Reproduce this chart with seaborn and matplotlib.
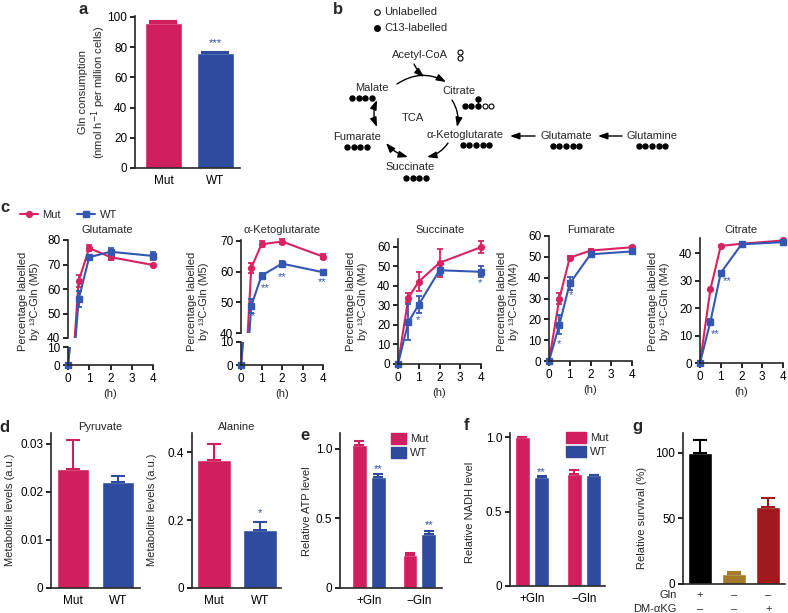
import numpy as np
import pandas as pd
import matplotlib
matplotlib.use("Agg")
import matplotlib.pyplot as plt
from matplotlib.patches import Patch
from matplotlib.lines import Line2D
import seaborn as sns

# ---------- data ----------
times = [0, 0.5, 1, 2, 4]

glu_mut = [0, 63.3, 76.7, 73.0, 69.8]
glu_mut_err = [0, 2.5, 1.3, 1.0, 0.6]
glu_wt = [0, 55.8, 73.0, 75.2, 73.5]
glu_wt_err = [0, 3.3, 0.6, 1.5, 1.5]

akg_mut = [0, 61.2, 68.9, 69.8, 64.9]
akg_mut_err = [0, 1.5, 1.0, 0.7, 0.8]
akg_wt = [0, 48.8, 58.7, 62.6, 59.8]
akg_wt_err = [0, 2.2, 0.8, 1.0, 0.5]

suc_mut = [0, 33.9, 42.2, 51.8, 59.8]
suc_mut_err = [0, 2.2, 4.8, 7.0, 3.0]
suc_wt = [0, 21.5, 30.4, 48.0, 47.2]
suc_wt_err = [0, 9.0, 4.3, 2.5, 2.8]

fum_mut = [0, 30.0, 49.6, 53.0, 54.6]
fum_mut_err = [0, 2.5, 1.0, 0.6, 0.5]
fum_wt = [0, 17.5, 37.2, 51.2, 52.6]
fum_wt_err = [0, 4.5, 3.3, 0.8, 0.8]

cit_mut = [0, 26.8, 42.6, 43.4, 44.6]
cit_mut_err = [0, 0.3, 0.3, 0.3, 0.3]
cit_wt = [0, 15.0, 32.8, 43.2, 44.0]
cit_wt_err = [0, 1.0, 0.6, 0.3, 0.5]

genotypes = ["Mut", "WT"]
gln_use = [95.6, 76.0]
gln_use_err = [1.3, 0.7]

pyruvate = [0.0247, 0.0221]
pyruvate_err = [0.0060, 0.0011]
alanine = [0.377, 0.170]
alanine_err = [0.047, 0.024]

conditions = ["+Gln", "\u2212Gln"]
atp_mut = [1.03, 0.237]
atp_mut_err = [0.03, 0.017]
atp_wt = [0.80, 0.388]
atp_wt_err = [0.017, 0.022]

nadh_mut = [1.0, 0.752]
nadh_mut_err = [0.003, 0.027]
nadh_wt = [0.735, 0.745]
nadh_wt_err = [0.003, 0.003]

survival = [100, 7.6, 58.4]
survival_err = [10, 1.8, 7.3]
gln_signs = ["+", "\u2013", "\u2013"]
dmakg_signs = ["\u2013", "\u2013", "+"]

MUT = "#d11f5e"
WT = "#2e4b9f"
MUT_LINE = "#d8235f"
WT_LINE = "#3557b2"
SURV_COLORS = ["#000000", "#a47a2c", "#a1191d"]

# ---------- style ----------
sns.set_theme(style="ticks")
plt.rcParams["font.family"] = ["Liberation Sans", "DejaVu Sans"]
plt.rcParams.update({
    "font.size": 8, "axes.linewidth": 1.2,
    "xtick.major.width": 1.2, "ytick.major.width": 1.2,
    "xtick.major.size": 3.5, "ytick.major.size": 3.5,
    "xtick.labelsize": 8.5, "ytick.labelsize": 8.5,
    "xtick.major.pad": 2, "ytick.major.pad": 2,
    "axes.labelsize": 8,
})

W, H = 788, 613
fig = plt.figure(figsize=(W / 100, H / 100), dpi=100)


def add_ax(l, t, r, b):
    ax = fig.add_axes([l / W, 1 - b / H, (r - l) / W, (b - t) / H])
    sns.despine(ax=ax)
    ax.tick_params(colors="black")
    return ax


def ftext(x, y, s, **kw):
    kw.setdefault("ha", "center")
    kw.setdefault("va", "center")
    fig.text(x / W, 1 - y / H, s, **kw)


def letter(x, y, s):
    ftext(x, y, s, fontsize=12, fontweight="bold")


def ylab(x, y, s):
    ftext(x, y, s, rotation=90, linespacing=1.15)


# ---------- b: diagram ----------
bx = fig.add_axes([0, 0, 1, 1], zorder=-1)
bx.set_xlim(0, W)
bx.set_ylim(H, 0)
bx.axis("off")

nodes = [("Acetyl-CoA", 420, 55), ("Malate", 372, 88), ("Citrate", 459, 91),
         ("TCA", 413, 118), ("Fumarate", 357, 137), ("\u03b1-Ketoglutarate", 465, 135),
         ("Succinate", 410, 167), ("Glutamate", 566, 136), ("Glutamine", 652, 136)]
for name, x, y in nodes:
    bx.text(x, y, name, ha="center", va="center", fontsize=8)

# labelled carbons: (x centre, y, filled, open)
carbons = [(362, 98, 4, 0), (357, 147, 4, 0), (416, 178, 4, 0),
           (476, 145, 5, 0), (566, 146, 5, 0), (652, 146, 5, 0), (478, 106, 3, 2)]


def dots(xc, y, nf, no, step=6.7):
    n = nf + no
    xs = xc + (np.arange(n) - (n - 1) / 2) * step
    bx.plot(xs[:nf], [y] * nf, "o", color="black", ms=3.6)
    if no:
        bx.plot(xs[nf:], [y] * no, "o", mfc="white", mec="black", ms=3.6, mew=0.8)
    return xs


for xc, y, nf, no in carbons:
    xs = dots(xc, y, nf, no)
# branch carbon of citrate
bx.plot([xs[2], xs[2]], [99, 106], color="black", lw=0.8)
bx.plot([xs[2]], [99], "o", color="black", ms=3.6)
# acetyl-CoA carbons
bx.plot([460, 460], [52, 58], "o", mfc="white", mec="black", ms=3.6, mew=0.8, ls="none")

# legend
bx.plot([377], [12], "o", mfc="white", mec="black", ms=4, mew=0.8)
bx.plot([377], [28], "o", color="black", ms=4)
bx.text(384, 12, "Unlabelled", ha="left", va="center", fontsize=8)
bx.text(384, 28, "C13-labelled", ha="left", va="center", fontsize=8)


def arrow(p0, p1, rad=0.0, style="-|>"):
    bx.annotate("", xy=p1, xytext=p0,
                arrowprops=dict(arrowstyle=style + ",head_length=0.7,head_width=0.25",
                                color="black", lw=1.0, shrinkA=0, shrinkB=0,
                                connectionstyle=f"arc3,rad={rad}", mutation_scale=8))


arrow((397, 84), (446, 82), rad=-0.3)
arrow((414, 64), (424, 77), rad=0.1)
arrow((452, 100), (457, 127), rad=-0.2)
arrow((448, 143), (427, 157), rad=-0.2)
arrow((408, 157), (386, 143), rad=-0.15, style="<|-|>")
arrow((377, 127), (377, 100), rad=-0.2, style="<|-|>")
arrow((535, 136), (510, 136))
arrow((622, 136), (598, 136))

# ---------- a ----------
ax = add_ax(135, 16, 240, 168)
df = pd.DataFrame({"geno": genotypes, "val": gln_use})
sns.barplot(data=df, x="geno", y="val", hue="geno", palette=[MUT, WT], legend=False,
            width=0.72, saturation=1, ax=ax)
for i, c in enumerate([MUT, WT]):
    ax.errorbar(i, gln_use[i], yerr=[[0], [gln_use_err[i]]], fmt="none", ecolor=c,
                elinewidth=1.5, capsize=10, capthick=1.5)
ax.text(1, gln_use[1] + gln_use_err[1] + 2.5, "***", ha="center", va="bottom", color=WT, fontsize=8)
ax.set_ylim(0, 100.5)
ax.set_yticks([0, 20, 40, 60, 80, 100])
ax.set_xlim(-0.55, 1.48)
ax.set_xlabel("")
ax.set_ylabel("")
ax.tick_params(axis="x", length=0, pad=5)
ylab(93, 92, "Gln consumption\n(nmol h$^{-1}$ per million cells)")
letter(83, 10, "a")
letter(338, 10, "b")

# ---------- c ----------


def draw_lines(ax, lo, hi, mut, mut_err, wt, wt_err):
    for vals, errs, col, mk in [(mut, mut_err, MUT_LINE, "o"), (wt, wt_err, WT_LINE, "s")]:
        sns.lineplot(x=times, y=vals, ax=ax, color=col, lw=1.5)
        keep = [i for i in range(len(times)) if lo - 0.01 <= vals[i] <= hi + 0.01]
        eb = ax.errorbar([times[i] for i in keep], [vals[i] for i in keep],
                         yerr=[errs[i] for i in keep], fmt=mk, ms=4.2, color=col,
                         capsize=2.2, elinewidth=1.3, capthick=1.3)
        for art in eb.get_children():
            art.set_clip_on(False)
        eb[0].set_clip_on(False)
    ax.set_ylim(lo, hi)
    ax.set_xlim(0, 4)
    ax.set_xlabel("")
    ax.set_ylabel("")


def broken_panel(l, r, up_t, up_b, lo_t, lo_b, up_lim, up_ticks, mut, mut_err, wt, wt_err):
    up = add_ax(l, up_t, r, up_b)
    draw_lines(up, up_lim[0], up_lim[1], mut, mut_err, wt, wt_err)
    up.set_yticks(up_ticks)
    up.spines["bottom"].set_visible(False)
    up.set_xticks([])
    low = add_ax(l, lo_t, r, lo_b)
    draw_lines(low, 0, 10, mut, mut_err, wt, wt_err)
    low.set_yticks([0, 10])
    low.set_xticks([0, 1, 2, 3, 4])
    low.set_xlabel("(h)", labelpad=3)
    return up, low


def single_panel(l, t, r, b, ylim, yticks, mut, mut_err, wt, wt_err):
    ax = add_ax(l, t, r, b)
    draw_lines(ax, ylim[0], ylim[1], mut, mut_err, wt, wt_err)
    ax.set_yticks(yticks)
    ax.set_xticks([0, 1, 2, 3, 4])
    ax.set_xlabel("(h)", labelpad=3)
    return ax


glu_up, glu_low = broken_panel(68, 153, 240, 338, 347, 365, (40, 80), [40, 50, 60, 70, 80],
                               glu_mut, glu_mut_err, glu_wt, glu_wt_err)
akg_up, akg_low = broken_panel(241, 323, 240, 333, 342, 365, (40, 70.3), [40, 50, 60, 70],
                               akg_mut, akg_mut_err, akg_wt, akg_wt_err)
suc_ax = single_panel(398, 239, 481, 364, (0, 64), [0, 10, 20, 30, 40, 50, 60],
                      suc_mut, suc_mut_err, suc_wt, suc_wt_err)
fum_ax = single_panel(549, 236, 632, 361, (0, 60), [0, 10, 20, 30, 40, 50, 60],
                      fum_mut, fum_mut_err, fum_wt, fum_wt_err)
cit_ax = single_panel(700, 238, 783, 363, (0, 45.5), [0, 10, 20, 30, 40],
                      cit_mut, cit_mut_err, cit_wt, cit_wt_err)

star_kw = dict(ha="center", va="center", color=WT_LINE, fontsize=8)
for x, y, s in [(0.57, 45.4, "*"), (1.2, 54.6, "**"), (2.0, 58.3, "**"), (3.95, 56.7, "**")]:
    akg_up.text(x, y, s, **star_kw)
for x, y, s in [(0.98, 22.6, "*"), (3.97, 41.5, "*")]:
    suc_ax.text(x, y, s, **star_kw)
for x, y, s in [(0.5, 8.3, "*"), (1.05, 31.6, "*")]:
    fum_ax.text(x, y, s, **star_kw)
for x, y, s in [(0.72, 10.6, "**"), (1.3, 29.9, "**")]:
    cit_ax.text(x, y, s, **star_kw)

for x, s in [(107, "Glutamate"), (282, "\u03b1-Ketoglutarate"), (440, "Succinate"),
             (591, "Fumarate"), (741, "Citrate")]:
    ftext(x, 230, s)
for x, m in [(29, "M5"), (198, "M5"), (357, "M4"), (508, "M4"), (659, "M4")]:
    ylab(x, 301, "Percentage labelled\nby \u00b9\u00b3C-Gln (%s)" % m)

handles = [Line2D([], [], color=MUT_LINE, marker="o", ms=4.2, lw=1.5),
           Line2D([], [], color=WT_LINE, marker="s", ms=4.2, lw=1.5)]
fig.legend(handles, genotypes, loc="center left", bbox_to_anchor=(20 / W, 1 - 215 / H),
           ncol=2, frameon=False, handlelength=1.6, columnspacing=1.5, handletextpad=0.4,
           borderaxespad=0, borderpad=0, fontsize=8)
letter(5, 207, "c")


# ---------- d ----------
def simple_bars(ax, cats, vals, errs, colors, width, capsize):
    df = pd.DataFrame({"cat": cats, "val": vals})
    sns.barplot(data=df, x="cat", y="val", hue="cat", palette=colors, legend=False,
                width=width, saturation=1, ax=ax)
    for i, c in enumerate(colors):
        ax.errorbar(i, vals[i], yerr=[[0], [errs[i]]], fmt="none", ecolor=c,
                    elinewidth=1.5, capsize=capsize, capthick=1.5)
    ax.set_xlabel("")
    ax.set_ylabel("")
    ax.tick_params(axis="x", length=0, pad=5)


ax = add_ax(51, 433, 140, 588)
simple_bars(ax, genotypes, pyruvate, pyruvate_err, [MUT, WT], 0.71, 5)
ax.set_ylim(0, 0.0322)
ax.set_yticks([0, 0.01, 0.02, 0.03], ["0", "0.01", "0.02", "0.03"])
ax.set_xlim(-0.49, 1.49)
ftext(100, 427, "Pyruvate")
ylab(10, 510, "Metabolite levels (a.u.)")
letter(4, 428, "d")

ax = add_ax(192, 433, 281, 588)
simple_bars(ax, genotypes, alanine, alanine_err, [MUT, WT], 0.75, 5)
ax.set_ylim(0, 0.456)
ax.set_yticks([0, 0.2, 0.4], ["0", "0.2", "0.4"])
ax.set_xlim(-0.48, 1.46)
ax.text(1, alanine[1] + alanine_err[1] + 0.025, "*", ha="center", va="center", color=WT, fontsize=8)
ftext(237, 427, "Alanine")
ylab(152, 510, "Metabolite levels (a.u.)")


# ---------- e / f ----------
def grouped_bars(ax, mut, mut_err, wt, wt_err):
    df = pd.DataFrame({"cond": conditions * 2,
                       "geno": ["Mut"] * 2 + ["WT"] * 2,
                       "val": mut + wt})
    width = 0.745
    sns.barplot(data=df, x="cond", y="val", hue="geno", hue_order=genotypes,
                palette=[MUT, WT], width=width, gap=0.22, saturation=1, legend=False, ax=ax)
    for k, (vals, errs, c) in enumerate([(mut, mut_err, MUT), (wt, wt_err, WT)]):
        off = (-1 if k == 0 else 1) * width / 4
        for i in range(len(conditions)):
            ax.errorbar(i + off, vals[i], yerr=[[0], [errs[i]]], fmt="none", ecolor=c,
                        elinewidth=1.5, capsize=3.5, capthick=1.5)
    ax.set_xlabel("")
    ax.set_ylabel("")
    ax.tick_params(axis="x", length=0, pad=5)
    return width / 4


def bar_legend(ax, x, y, hl):
    ax.legend([Patch(color=MUT), Patch(color=WT)], genotypes, loc="upper left",
              bbox_to_anchor=(x / W, 1 - y / H), bbox_transform=fig.transFigure,
              frameon=False, handlelength=hl, handleheight=1.15, handletextpad=0.4,
              labelspacing=0.25, borderpad=0, borderaxespad=0, fontsize=8)


ax = add_ax(340, 433, 442, 588)
off = grouped_bars(ax, atp_mut, atp_mut_err, atp_wt, atp_wt_err)
ax.set_ylim(0, 1.115)
ax.set_yticks([0, 0.5, 1.0], ["0", "0.5", "1.0"])
ax.set_xlim(-0.57, 1.45)
for i in range(2):
    ax.text(i + off, atp_wt[i] + atp_wt_err[i] + 0.04, "**", ha="center", va="center", color=WT, fontsize=8)
bar_legend(ax, 391, 433, 1.35)
ylab(307, 511, "Relative ATP level")
letter(305, 435, "e")

ax = add_ax(510, 433, 605, 586)
off = grouped_bars(ax, nadh_mut, nadh_mut_err, nadh_wt, nadh_wt_err)
ax.set_ylim(0, 1.03)
ax.set_yticks([0, 0.5, 1.0], ["0", "0.5", "1.0"])
ax.set_xlim(-0.42, 1.40)
ax.text(off, nadh_wt[0] + 0.035, "**", ha="center", va="center", color=WT, fontsize=8)
bar_legend(ax, 566, 432, 1.8)
ylab(470, 512, "Relative NADH level")
letter(467, 425, "f")

# ---------- g ----------
ax = add_ax(683, 433, 785, 584)
simple_bars(ax, ["a", "b", "c"], survival, survival_err, SURV_COLORS, 0.7, 5)
ax.set_ylim(0, 115)
ax.set_yticks([0, 50, 100])
ax.set_xlim(-0.5, 2.49)
ax.set_xticks([])
for i in range(3):
    ax.text(i, -0.073, gln_signs[i], transform=ax.get_xaxis_transform(), ha="center", va="center", fontsize=8)
    ax.text(i, -0.166, dmakg_signs[i], transform=ax.get_xaxis_transform(), ha="center", va="center", fontsize=8)
ftext(677, 595, "Gln", ha="right")
ftext(677, 609, "DM-\u03b1KG", ha="right")
ylab(642, 518, "Relative survival (%)")
letter(637, 427, "g")

fig.savefig("out.png", dpi=100)
